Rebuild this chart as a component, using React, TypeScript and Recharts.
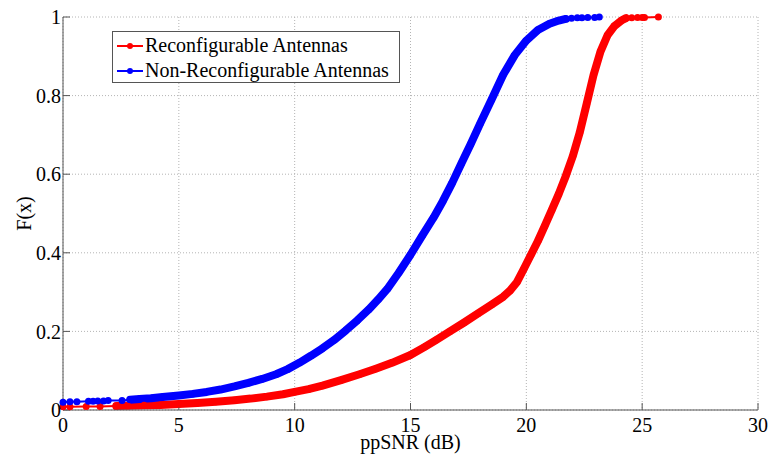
import { LineChart, Line, XAxis, YAxis, CartesianGrid, Legend } from 'recharts'

// ppSNR samples (dB) and empirical CDF values, reconfigurable antennas
const reconfSnr = [
  0, 0.3, 1.0, 1.6, 2.3, 2.8, 3.5, 4.2, 5.0, 5.8, 6.6, 7.4, 8.1, 8.8, 9.5, 10.0, 10.6, 11.2,
  12.0, 12.8, 13.5, 14.2, 15.0, 15.6, 16.1, 16.7, 17.3, 17.9, 18.5, 19.0, 19.3, 19.6, 19.9,
  20.2, 20.5, 20.8, 21.1, 21.4, 21.7, 22.0, 22.3, 22.6, 22.9, 23.2, 23.5, 23.8, 24.1, 24.3,
  24.55, 24.8, 25.0, 25.1, 25.7,
]
const reconfCdf = [
  0.008, 0.008, 0.009, 0.009, 0.01, 0.011, 0.012, 0.013, 0.015, 0.018, 0.021, 0.025, 0.029,
  0.034, 0.04, 0.046, 0.053, 0.062, 0.076, 0.091, 0.105, 0.12, 0.14, 0.16, 0.178, 0.2, 0.222,
  0.245, 0.268, 0.288, 0.304, 0.326, 0.36, 0.395, 0.43, 0.469, 0.509, 0.55, 0.595, 0.645,
  0.705, 0.778, 0.852, 0.912, 0.953, 0.977, 0.991, 0.997, 0.998, 0.999, 0.999, 0.999, 1.0,
]

// ppSNR samples (dB) and empirical CDF values, non-reconfigurable antennas
const fixedSnr = [
  0, 0.3, 0.6, 1.1, 1.3, 1.5, 1.75, 1.95, 2.55, 2.9, 3.3, 3.8, 4.3, 5.0, 5.6, 6.2, 6.8, 7.4,
  8.0, 8.6, 9.2, 9.7, 10.2, 10.7, 11.2, 11.7, 12.2, 12.7, 13.2, 13.6, 14.0, 14.5, 15.0, 15.5,
  16.0, 16.4, 16.8, 17.2, 17.6, 18.0, 18.5, 19.0, 19.5, 20.0, 20.5, 21.0, 21.4, 21.7, 21.95,
  22.2, 22.4, 22.65, 22.95, 23.15,
]
const fixedCdf = [
  0.02, 0.021, 0.021, 0.022, 0.022, 0.023, 0.023, 0.024, 0.024, 0.026, 0.028, 0.03, 0.033,
  0.037, 0.041, 0.046, 0.052, 0.06, 0.069, 0.079, 0.091, 0.104, 0.12, 0.138, 0.157, 0.178,
  0.202, 0.228, 0.256, 0.281, 0.308, 0.35, 0.395, 0.443, 0.49, 0.532, 0.578, 0.628, 0.677,
  0.728, 0.79, 0.853, 0.903, 0.94, 0.967, 0.983, 0.991, 0.995, 0.997, 0.998, 0.998, 0.999,
  0.999, 1.0,
]

const xTicks = [0, 5, 10, 15, 20, 25, 30]
const yTicks = [0, 0.2, 0.4, 0.6, 0.8, 1]

// legend rows, top to bottom
const legendOrder = ['Reconfigurable Antennas', 'Non-Reconfigurable Antennas']

// where the samples are packed so tightly that the markers merge into a band
const reconfDense = [2.3, 24.3]
const fixedDense = [2.9, 21.7]

const RED = '#ff0000'
const BLUE = '#0000ff'
const FRAME = '#555555'
const FONT = '"Liberation Serif", "Times New Roman", serif'

const toRows = (snr: number[], cdf: number[]) => snr.map((s, i) => ({ snr: s, cdf: cdf[i] }))
const reconfData = toRows(reconfSnr, reconfCdf)
const fixedData = toRows(fixedSnr, fixedCdf)
const within = (rows: { snr: number }[], [lo, hi]: number[]) =>
  rows.filter((r) => r.snr >= lo && r.snr <= hi)

const marker = (color: string) => (props: any) => (
  <circle key={`m-${props.index}`} cx={props.cx} cy={props.cy} r={3.5} fill={color} stroke="none" />
)

function XLabel({ viewBox }: any) {
  return (
    <text
      x={viewBox.x + viewBox.width / 2}
      y={viewBox.y + 39}
      textAnchor="middle"
      fontFamily={FONT}
      fontSize={20}
      fill="#000"
    >
      ppSNR (dB)
    </text>
  )
}

function YLabel({ viewBox }: any) {
  const x = viewBox.x + 31
  const y = viewBox.y + viewBox.height / 2
  return (
    <text
      x={x}
      y={y}
      transform={`rotate(-90, ${x}, ${y})`}
      textAnchor="middle"
      fontFamily={FONT}
      fontSize={20}
      fill="#000"
    >
      F(x)
    </text>
  )
}

function LegendBox({ payload }: any) {
  const items = (payload || [])
    .filter((p: any) => p.type !== 'none')
    .sort((a: any, b: any) => legendOrder.indexOf(a.value) - legendOrder.indexOf(b.value))
  return (
    <div
      style={{
        width: 288,
        height: 52,
        boxSizing: 'border-box',
        border: `1px solid ${FRAME}`,
        background: '#fff',
        paddingTop: 1,
        paddingLeft: 4,
        fontFamily: FONT,
        fontSize: 20,
        color: '#000',
      }}
    >
      {items.map((item: any) => (
        <div key={item.value} style={{ display: 'flex', alignItems: 'center', height: 25, lineHeight: '25px' }}>
          <svg width={26} height={10} style={{ marginRight: 2 }}>
            <line x1={0} y1={5} x2={26} y2={5} stroke={item.color} strokeWidth={2} />
            <circle cx={13} cy={5} r={3} fill={item.color} />
          </svg>
          <span>{item.value}</span>
        </div>
      ))}
    </div>
  )
}

const tickStyle = { fontFamily: FONT, fontSize: 20, fill: '#000' }
const blank = () => ''

export default function App() {
  return (
    <div style={{ position: 'absolute', left: 0, top: 0, width: 770, height: 454, background: '#fff' }}>
      <LineChart width={770} height={454} margin={{ top: 17, right: 12, bottom: 0, left: 0 }}>
        <CartesianGrid
          xAxisId="bottom"
          yAxisId="left"
          stroke="#b4b4b4"
          strokeDasharray="1 2"
          horizontalValues={yTicks}
          verticalValues={xTicks}
        />
        <XAxis
          xAxisId="bottom"
          dataKey="snr"
          type="number"
          domain={[0, 30]}
          ticks={xTicks}
          height={44}
          stroke={FRAME}
          tickSize={-7}
          tickMargin={15}
          tick={tickStyle}
          label={<XLabel />}
        />
        <XAxis
          xAxisId="top"
          orientation="top"
          dataKey="snr"
          type="number"
          domain={[0, 30]}
          ticks={xTicks}
          height={0}
          stroke={FRAME}
          tickSize={-7}
          tickFormatter={blank}
        />
        <YAxis
          yAxisId="left"
          type="number"
          domain={[0, 1]}
          ticks={yTicks}
          width={63}
          stroke={FRAME}
          tickSize={-7}
          tickMargin={9}
          tick={tickStyle}
          label={<YLabel />}
        />
        <YAxis
          yAxisId="right"
          orientation="right"
          type="number"
          domain={[0, 1]}
          ticks={yTicks}
          width={0}
          stroke={FRAME}
          tickSize={-7}
          tickFormatter={blank}
        />
        <Legend
          layout="vertical"
          align="center"
          verticalAlign="middle"
          content={<LegendBox />}
          wrapperStyle={{ left: 112, top: 31, width: 288 }}
        />
        <Line
          xAxisId="bottom"
          yAxisId="left"
          data={within(reconfData, reconfDense)}
          dataKey="cdf"
          stroke={RED}
          strokeWidth={8}
          strokeLinecap="round"
          strokeLinejoin="round"
          dot={false}
          legendType="none"
          isAnimationActive={false}
        />
        <Line
          xAxisId="bottom"
          yAxisId="left"
          data={reconfData}
          dataKey="cdf"
          name="Reconfigurable Antennas"
          stroke={RED}
          strokeWidth={2}
          dot={marker(RED)}
          isAnimationActive={false}
        />
        <Line
          xAxisId="bottom"
          yAxisId="left"
          data={within(fixedData, fixedDense)}
          dataKey="cdf"
          stroke={BLUE}
          strokeWidth={8}
          strokeLinecap="round"
          strokeLinejoin="round"
          dot={false}
          legendType="none"
          isAnimationActive={false}
        />
        <Line
          xAxisId="bottom"
          yAxisId="left"
          data={fixedData}
          dataKey="cdf"
          name="Non-Reconfigurable Antennas"
          stroke={BLUE}
          strokeWidth={2}
          dot={marker(BLUE)}
          isAnimationActive={false}
        />
      </LineChart>
    </div>
  )
}
